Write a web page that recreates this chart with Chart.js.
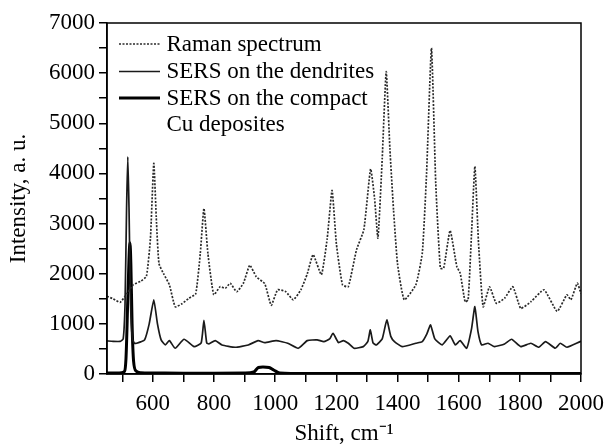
<!DOCTYPE html>
<html>
<head>
<meta charset="utf-8">
<script src="https://cdn.jsdelivr.net/npm/chart.js@4/dist/chart.umd.min.js"></script>
<style>
  html, body { margin: 0; padding: 0; background: #fff; }
  canvas { display: block; }
</style>
</head>
<body>
<canvas id="c" width="612" height="448"></canvas>
<script>
// ---- Data ----
const ramanX = [450, 470, 493, 515, 536, 560, 579, 592, 603, 612, 620, 635, 654, 673, 695, 718, 740, 755, 767, 780, 799, 820, 837, 853, 874, 896, 917, 938, 966, 987, 1008, 1035, 1059, 1084, 1105, 1124, 1151, 1170, 1186, 1200, 1220, 1239, 1266, 1290, 1312, 1325, 1336, 1350, 1363, 1375, 1387, 1400, 1422, 1460, 1481, 1495, 1511, 1525, 1540, 1551, 1572, 1594, 1605, 1621, 1631, 1642, 1653, 1665, 1680, 1701, 1723, 1750, 1777, 1803, 1836, 1879, 1922, 1954, 1967, 1988, 2000];
const ramanY = [1550, 1500, 1430, 1600, 1780, 1850, 1950, 2700, 4200, 3000, 2200, 2000, 1780, 1340, 1400, 1510, 1600, 2400, 3300, 2400, 1580, 1740, 1710, 1810, 1640, 1810, 2170, 1940, 1800, 1370, 1680, 1640, 1480, 1680, 2000, 2380, 1980, 2700, 3660, 2600, 1780, 1740, 2480, 2880, 4090, 3500, 2710, 4300, 6030, 4500, 3270, 2200, 1480, 1780, 2410, 4000, 6500, 3800, 2110, 2110, 2860, 2140, 2010, 1440, 1480, 2800, 4140, 2600, 1340, 1740, 1410, 1510, 1740, 1310, 1440, 1680, 1250, 1580, 1480, 1810, 1600];

const dendX = [450, 470, 493, 503, 509, 514, 518, 522, 527, 533, 540, 547, 560, 573, 588, 603, 615, 627, 641, 654, 673, 702, 735, 758, 767, 776, 783, 804, 826, 869, 912, 944, 966, 1003, 1041, 1075, 1105, 1137, 1159, 1178, 1189, 1207, 1223, 1239, 1258, 1288, 1303, 1311, 1320, 1331, 1350, 1365, 1378, 1390, 1415, 1460, 1481, 1496, 1508, 1522, 1546, 1572, 1589, 1605, 1626, 1642, 1653, 1663, 1675, 1696, 1717, 1750, 1773, 1803, 1836, 1862, 1884, 1916, 1932, 1954, 1997, 2000];
const dendY = [660, 650, 650, 700, 1400, 3300, 4330, 3300, 1400, 700, 610, 613, 640, 679, 1000, 1480, 1000, 680, 580, 665, 513, 693, 545, 620, 1070, 620, 599, 665, 579, 533, 579, 665, 625, 665, 613, 513, 666, 680, 646, 700, 812, 626, 666, 613, 513, 546, 650, 879, 620, 580, 700, 1078, 750, 646, 546, 613, 646, 800, 979, 700, 580, 759, 580, 666, 513, 900, 1344, 850, 580, 613, 546, 600, 693, 546, 613, 533, 646, 513, 613, 533, 646, 650];

const compX = [450, 490, 505, 512, 518, 522, 525, 528, 532, 537, 545, 560, 600, 700, 800, 900, 930, 945, 960, 980, 995, 1015, 1100, 1300, 1500, 1700, 2000];
const compY = [20, 20, 40, 300, 1500, 2300, 2620, 2200, 1000, 250, 60, 25, 20, 15, 15, 20, 40, 130, 140, 130, 80, 20, 10, 10, 10, 10, 10];

const seriesLabels = ['Raman spectrum', 'SERS on the dendrites', 'SERS on the compact\nCu deposites'];
const xTickLabels = [600, 800, 1000, 1200, 1400, 1600, 1800, 2000];
const yTickLabels = [0, 1000, 2000, 3000, 4000, 5000, 6000, 7000];

const FONT = '"Liberation Serif", "Times New Roman", serif';
const pts = (xs, ys) => xs.map((x, i) => ({ x: x, y: ys[i] }));

const legendPlugin = {
  id: 'insideLegend',
  afterDraw(chart) {
    const ctx = chart.ctx;
    const ds = chart.data.datasets;
    const x0 = 119, x1 = 160, tx = 166.5;
    const baselines = [50.5, 78, 104.5];
    ctx.save();
    ctx.font = '23px ' + FONT;
    ctx.fillStyle = '#000';
    ctx.textBaseline = 'alphabetic';
    ctx.textAlign = 'left';
    ds.forEach((d, i) => {
      const b = baselines[i];
      ctx.beginPath();
      ctx.strokeStyle = d.borderColor;
      ctx.lineWidth = d.borderWidth;
      ctx.setLineDash(d.borderDash || []);
      ctx.moveTo(x0, b - 6.5);
      ctx.lineTo(x1, b - 6.5);
      ctx.stroke();
      ctx.setLineDash([]);
      const lines = d.label.split('\n');
      lines.forEach((t, k) => ctx.fillText(t, tx, b + k * 26.5));
    });
    ctx.restore();
  }
};

const framePlugin = {
  id: 'frame',
  afterDraw(chart) {
    const a = chart.chartArea, ctx = chart.ctx;
    ctx.save();
    ctx.strokeStyle = '#000';
    ctx.lineWidth = 1.5;
    ctx.strokeRect(a.left, a.top, a.right - a.left, a.bottom - a.top);
    ctx.restore();
  }
};

new Chart(document.getElementById('c'), {
  type: 'line',
  data: {
    datasets: [
      { label: seriesLabels[0], data: pts(ramanX, ramanY), borderColor: '#2a2a2a', borderWidth: 1.7, borderDash: [2, 1.5], pointRadius: 0, fill: false, tension: 0.15 },
      { label: seriesLabels[1], data: pts(dendX, dendY), borderColor: '#1a1a1a', borderWidth: 1.7, pointRadius: 0, fill: false, tension: 0.15 },
      { label: seriesLabels[2], data: pts(compX, compY), borderColor: '#000', borderWidth: 3, pointRadius: 0, fill: false, cubicInterpolationMode: 'monotone' }
    ]
  },
  options: {
    responsive: false,
    animation: false,
    devicePixelRatio: 1,
    layout: { padding: { top: 23, right: 24, left: 5, bottom: 0 } },
    plugins: { legend: { display: false }, tooltip: { enabled: false } },
    scales: {
      x: {
        type: 'linear', min: 450, max: 2000,
        border: { display: true, color: '#000', width: 1.5 },
        grid: { drawOnChartArea: false, drawTicks: true, tickLength: 8, color: '#000', lineWidth: 1.5 },
        ticks: {
          stepSize: 100, includeBounds: false, autoSkip: false, maxRotation: 0, color: '#000', padding: 8,
          font: { family: FONT, size: 23 },
          callback: v => xTickLabels.includes(v) ? String(v) : ''
        },
        title: { display: true, text: 'Shift, cm⁻¹', color: '#000', font: { family: FONT, size: 23 }, padding: { top: 0, bottom: 0 } },
        afterFit: s => { s.height = 74; }
      },
      y: {
        min: 0, max: 7000,
        border: { display: true, color: '#000', width: 1.5 },
        grid: { drawOnChartArea: false, drawTicks: true, tickLength: 8, color: '#000', lineWidth: 1.5 },
        ticks: {
          stepSize: 500, autoSkip: false, color: '#000', padding: 4,
          font: { family: FONT, size: 23 },
          callback: v => yTickLabels.includes(v) ? String(v) : ''
        },
        title: { display: true, text: 'Intensity, a. u.', color: '#000', font: { family: FONT, size: 23 }, padding: { top: 0, bottom: 0 } },
        afterFit: s => { s.width = 102; }
      }
    }
  },
  plugins: [legendPlugin, framePlugin]
});
</script>
</body>
</html>
